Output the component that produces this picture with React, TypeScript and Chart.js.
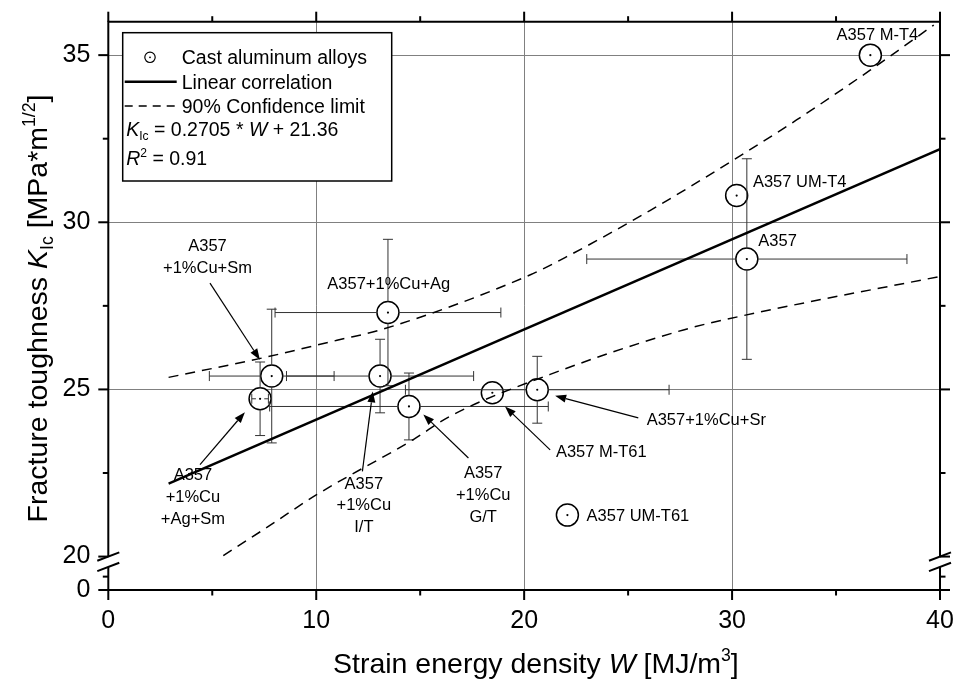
import React, { useEffect, useRef } from 'react';
import { Chart, registerables } from 'chart.js';

Chart.register(...registerables);

const FONT = '"Liberation Sans", Arial, Helvetica, sans-serif';

// ---------------- data ----------------
const alloyNames = ['A357 M-T4', 'A357 UM-T4', 'A357', 'A357+1%Cu+Ag', 'A357+1%Cu+Sm', 'A357+1%Cu I/T', 'A357+1%Cu+Ag+Sm', 'A357+1%Cu G/T', 'A357 M-T61', 'A357+1%Cu+Sr', 'A357 UM-T61'];
const strainEnergy = [36.65, 30.22, 30.71, 13.45, 7.86, 13.07, 7.3, 14.46, 18.47, 20.63, 22.08];
const toughness = [35.0, 30.8, 28.9, 27.3, 25.4, 25.4, 24.72, 24.49, 24.9, 24.99, 21.24];
const strainErr = [0, 0, 7.7, 5.43, 3.0, 4.5, 0.4, 6.7, 0, 6.34, 0];
const toughnessErr = [0, 0, 3.0, 2.19, 2.0, 1.1, 1.1, 1.0, 0, 1.0, 0];

const fitW = [2.9, 40];
const fitK = [22.18, 32.19];

const upperW = [2.9, 7.4, 11.0, 13.2, 20.3, 22.05, 26.05, 30.06, 33.1, 36.64, 39.7];
const upperK = [25.36, 25.94, 26.47, 26.8, 28.43, 28.97, 30.35, 31.86, 33.06, 34.55, 35.9];

const lowerW = [5.53, 7.55, 10.02, 14.67, 16.44, 21.25, 27.66, 30.7, 40];
const lowerK = [20.03, 20.84, 21.85, 23.5, 24.2, 25.45, 26.78, 27.23, 28.38];

const xTickValues = [0, 5, 10, 15, 20, 25, 30, 35, 40];
const xTickLabels = ['0', '', '10', '', '20', '', '30', '', '40'];
const xGridValues = [10, 20, 30];
const yBreakZero = 19.0; // scale position where the lower segment's "0" sits
const yTop = 36.0;
const yTickValues = [19.0, 19.4, 20, 22.5, 25, 27.5, 30, 32.5, 35];
const yTickLabels = ['0', '', '20', '', '25', '', '30', '', '35'];
const yGridValues = [25, 30, 35];
const yBreakMarks = [20.0, 19.69];

// annotation texts (positions in data units)
const labelNotes = [
  { lines: ['A357 M-T4'], w: 36.99, k: 35.6 },
  { lines: ['A357 UM-T4'], w: 33.25, k: 31.2 },
  { lines: ['A357'], w: 32.19, k: 29.44 },
  { lines: ['A357+1%Cu+Ag'], w: 13.49, k: 28.13 },
  { lines: ['A357', '+1%Cu+Sm'], w: 4.77, k: 29.27 },
  { lines: ['A357', '+1%Cu', '+Ag+Sm'], w: 4.07, k: 22.42 },
  { lines: ['A357', '+1%Cu', 'I/T'], w: 12.29, k: 22.17 },
  { lines: ['A357', '+1%Cu', 'G/T'], w: 18.03, k: 22.48 },
  { lines: ['A357 M-T61'], w: 23.71, k: 23.1 },
  { lines: ['A357+1%Cu+Sr'], w: 28.76, k: 24.07 },
  { lines: ['A357 UM-T61'], w: 25.47, k: 21.21 },
];
const arrowNotes = [
  { from: [4.89, 28.18], to: [7.29, 25.89] },
  { from: [4.41, 22.75], to: [6.57, 24.32] },
  { from: [12.22, 22.55], to: [12.72, 24.94] },
  { from: [17.32, 22.95], to: [15.15, 24.25] },
  { from: [21.25, 23.19], to: [19.08, 24.49] },
  { from: [25.49, 24.15], to: [21.49, 24.81] },
];

type Part = { t: string; i?: boolean; sub?: boolean; sup?: boolean };

const legendRows: { kind: string; parts: Part[] }[] = [
  { kind: 'circle', parts: [{ t: 'Cast aluminum alloys' }] },
  { kind: 'solid', parts: [{ t: 'Linear correlation' }] },
  { kind: 'dash', parts: [{ t: '90% Confidence limit' }] },
  { kind: 'text', parts: [{ t: 'K', i: true }, { t: 'Ic', sub: true }, { t: ' = 0.2705 * ' }, { t: 'W', i: true }, { t: ' + 21.36' }] },
  { kind: 'text', parts: [{ t: 'R', i: true }, { t: '2', sup: true }, { t: ' = 0.91' }] },
];
const xTitle: Part[] = [{ t: 'Strain energy density ' }, { t: 'W', i: true }, { t: ' [MJ/m' }, { t: '3', sup: true }, { t: ']' }];
const yTitle: Part[] = [{ t: 'Fracture toughness ' }, { t: 'K', i: true }, { t: 'Ic', sub: true }, { t: ' [MPa*m' }, { t: '1/2', sup: true }, { t: ']' }];

// ---------------- drawing helpers ----------------
function fontFor(p: Part, size: number) {
  const s = p.sub || p.sup ? size * 0.62 : size;
  return `${p.i ? 'italic ' : ''}${s}px ${FONT}`;
}
function richWidth(ctx: CanvasRenderingContext2D, parts: Part[], size: number) {
  let w = 0;
  for (const p of parts) {
    ctx.font = fontFor(p, size);
    w += ctx.measureText(p.t).width;
  }
  return w;
}
function drawRich(ctx: CanvasRenderingContext2D, parts: Part[], x: number, y: number, size: number, align: string) {
  const total = richWidth(ctx, parts, size);
  let cx = align === 'center' ? x - total / 2 : align === 'right' ? x - total : x;
  ctx.textAlign = 'left';
  ctx.textBaseline = 'alphabetic';
  for (const p of parts) {
    ctx.font = fontFor(p, size);
    const dy = p.sub ? size * 0.2 : p.sup ? -size * 0.42 : 0;
    ctx.fillText(p.t, cx, y + dy);
    cx += ctx.measureText(p.t).width;
  }
}
function seg(ctx: CanvasRenderingContext2D, x0: number, y0: number, x1: number, y1: number) {
  ctx.beginPath();
  ctx.moveTo(x0, y0);
  ctx.lineTo(x1, y1);
  ctx.stroke();
}

function drawErrorBars(chart: any) {
  const { ctx } = chart;
  const x = chart.scales.x, y = chart.scales.y;
  const r = 11, cap = 5;
  ctx.save();
  ctx.strokeStyle = '#333';
  ctx.lineWidth = 1;
  strainEnergy.forEach((w, i) => {
    const cx = x.getPixelForValue(w), cy = y.getPixelForValue(toughness[i]);
    if (strainErr[i] > 0) {
      const x0 = x.getPixelForValue(w - strainErr[i]);
      const x1 = x.getPixelForValue(w + strainErr[i]);
      const half = (x1 - x0) / 2;
      const gap = half > r ? r : half * 0.5;
      seg(ctx, x0, cy, cx - gap, cy);
      seg(ctx, cx + gap, cy, x1, cy);
      seg(ctx, x0, cy - cap, x0, cy + cap);
      seg(ctx, x1, cy - cap, x1, cy + cap);
    }
    if (toughnessErr[i] > 0) {
      const y0 = y.getPixelForValue(toughness[i] + toughnessErr[i]);
      const y1 = y.getPixelForValue(toughness[i] - toughnessErr[i]);
      const half = (y1 - y0) / 2;
      const gap = half > r ? r : half * 0.5;
      seg(ctx, cx, y0, cx, cy - gap);
      seg(ctx, cx, cy + gap, cx, y1);
      seg(ctx, cx - cap, y0, cx + cap, y0);
      seg(ctx, cx - cap, y1, cx + cap, y1);
    }
  });
  ctx.restore();
}

function drawFrame(chart: any) {
  const { ctx, chartArea: a } = chart;
  const x = chart.scales.x, y = chart.scales.y;
  ctx.save();
  ctx.strokeStyle = '#000';
  ctx.lineWidth = 2;
  ctx.lineCap = 'butt';
  const bTop = y.getPixelForValue(yBreakMarks[0]);
  const bBot = y.getPixelForValue(yBreakMarks[1]);
  for (const ax of [a.left, a.right]) {
    seg(ctx, ax, a.top - 1, ax, bTop);
    seg(ctx, ax, bBot, ax, a.bottom + 1);
  }
  seg(ctx, a.left, a.top, a.right, a.top);
  seg(ctx, a.left, a.bottom, a.right, a.bottom);
  xTickValues.forEach((v, i) => {
    const px = x.getPixelForValue(v);
    const len = xTickLabels[i] ? 10 : 5.5;
    seg(ctx, px, a.bottom, px, a.bottom + len);
    seg(ctx, px, a.top, px, a.top - len);
  });
  yTickValues.forEach((v, i) => {
    const py = y.getPixelForValue(v);
    const len = yTickLabels[i] ? 10 : 5.5;
    seg(ctx, a.left - len, py, a.left, py);
    seg(ctx, a.right, py, a.right + len, py);
  });
  for (const ax of [a.left, a.right]) {
    for (const v of yBreakMarks) {
      const py = y.getPixelForValue(v);
      seg(ctx, ax - 11, py + 4.2, ax + 11, py - 4.2);
    }
  }
  ctx.restore();
}

function drawNotes(chart: any) {
  const { ctx } = chart;
  const x = chart.scales.x, y = chart.scales.y;
  ctx.save();
  ctx.fillStyle = '#000';
  ctx.font = `16.5px ${FONT}`;
  ctx.textAlign = 'center';
  ctx.textBaseline = 'middle';
  for (const n of labelNotes) {
    const px = x.getPixelForValue(n.w);
    const py = y.getPixelForValue(n.k);
    n.lines.forEach((ln, j) => ctx.fillText(ln, px, py + j * 21.7));
  }
  ctx.strokeStyle = '#000';
  ctx.lineWidth = 1.2;
  for (const a of arrowNotes) {
    const x0 = x.getPixelForValue(a.from[0]), y0 = y.getPixelForValue(a.from[1]);
    const x1 = x.getPixelForValue(a.to[0]), y1 = y.getPixelForValue(a.to[1]);
    const ang = Math.atan2(y1 - y0, x1 - x0);
    const L = 11, W = 4;
    const bx = x1 - L * Math.cos(ang), by = y1 - L * Math.sin(ang);
    seg(ctx, x0, y0, bx, by);
    ctx.beginPath();
    ctx.moveTo(x1, y1);
    ctx.lineTo(bx + W * Math.sin(ang), by - W * Math.cos(ang));
    ctx.lineTo(bx - W * Math.sin(ang), by + W * Math.cos(ang));
    ctx.closePath();
    ctx.fill();
  }
  ctx.restore();
}

function drawLegend(chart: any) {
  const { ctx, chartArea: a } = chart;
  const left = a.left + 14.4, top = a.top + 11, right = a.left + 283.4, bottom = a.top + 159.3;
  ctx.save();
  ctx.fillStyle = '#fff';
  ctx.fillRect(left, top, right - left, bottom - top);
  ctx.strokeStyle = '#000';
  ctx.lineWidth = 1.5;
  ctx.strokeRect(left, top, right - left, bottom - top);
  const rowsY = [57.3, 81.7, 106, 129, 158].map((v) => v - 21.7 + a.top);
  const size = 19.5;
  ctx.fillStyle = '#000';
  legendRows.forEach((row, i) => {
    const cy = rowsY[i];
    const base = cy + size * 0.36;
    if (row.kind === 'circle') {
      ctx.lineWidth = 1.2;
      ctx.beginPath();
      ctx.arc(left + 27.3, cy, 5.2, 0, Math.PI * 2);
      ctx.stroke();
      ctx.beginPath();
      ctx.arc(left + 27.3, cy, 0.9, 0, Math.PI * 2);
      ctx.fill();
    } else if (row.kind === 'solid') {
      ctx.lineWidth = 2.5;
      seg(ctx, left + 2, cy, left + 54, cy);
    } else if (row.kind === 'dash') {
      ctx.lineWidth = 1.5;
      ctx.setLineDash([8, 6]);
      seg(ctx, left + 2, cy, left + 54, cy);
      ctx.setLineDash([]);
    }
    const tx = row.kind === 'text' ? left + 3.5 : left + 59;
    drawRich(ctx, row.parts, tx, base, size, 'left');
  });
  ctx.restore();
}

function drawTitles(chart: any) {
  const { ctx } = chart;
  ctx.save();
  ctx.fillStyle = '#000';
  drawRich(ctx, xTitle, 333, 673, 28.5, 'left');
  ctx.translate(47, 308.5);
  ctx.rotate(-Math.PI / 2);
  drawRich(ctx, yTitle, 0, 0, 28.5, 'center');
  ctx.restore();
}

const zeroPad = (s: any) => {
  s.paddingLeft = 0;
  s.paddingRight = 0;
  s.paddingTop = 0;
  s.paddingBottom = 0;
};

const decorPlugin = {
  id: 'decor',
  afterDatasetDraw(chart: any, args: any) {
    if (args.index === 0) drawErrorBars(chart);
  },
  afterDraw(chart: any) {
    drawFrame(chart);
    drawLegend(chart);
    drawNotes(chart);
    drawTitles(chart);
  },
};

export default function App() {
  const ref = useRef<HTMLCanvasElement>(null);
  useEffect(() => {
    const canvas = ref.current;
    if (!canvas) return;
    const pts = strainEnergy.map((w, i) => ({ x: w, y: toughness[i] }));
    const chart = new Chart(canvas, {
      type: 'scatter',
      data: {
        datasets: [
          { label: 'Cast aluminum alloys', data: pts, pointRadius: 11, pointBorderWidth: 1.5, pointBackgroundColor: '#fff', pointBorderColor: '#000', order: 3 } as any,
          { label: 'centers', data: pts, pointRadius: 1.1, pointBorderWidth: 0, pointBackgroundColor: '#000', order: 2 } as any,
          { label: 'Linear correlation', data: fitW.map((w, i) => ({ x: w, y: fitK[i] })), showLine: true, borderColor: '#000', borderWidth: 2.5, pointRadius: 0, order: 1 } as any,
          { label: '90% Confidence limit', data: upperW.map((w, i) => ({ x: w, y: upperK[i] })), showLine: true, borderColor: '#000', borderWidth: 1.5, borderDash: [10, 7], pointRadius: 0, cubicInterpolationMode: 'monotone', order: 1 } as any,
          { label: '90% Confidence limit (lower)', data: lowerW.map((w, i) => ({ x: w, y: lowerK[i] })), showLine: true, borderColor: '#000', borderWidth: 1.5, borderDash: [10, 7], pointRadius: 0, cubicInterpolationMode: 'monotone', order: 1 } as any,
        ],
      },
      options: {
        responsive: false,
        animation: false,
        events: [],
        layout: { padding: { top: 21.7, right: 18, left: 0, bottom: 0 } },
        plugins: { legend: { display: false }, tooltip: { enabled: false } },
        scales: {
          x: {
            type: 'linear',
            position: 'bottom',
            min: 0,
            max: 40,
            afterBuildTicks: (s: any) => { s.ticks = xTickValues.map((v) => ({ value: v })); },
            afterFit: (s: any) => { s.height = 99; zeroPad(s); },
            ticks: { autoSkip: false, maxRotation: 0, padding: 16, color: '#000', font: { family: FONT, size: 25 }, callback: (_v: any, i: number) => xTickLabels[i] ?? '' },
            grid: { drawTicks: false, lineWidth: 1, color: (c: any) => (c.tick && xGridValues.includes(c.tick.value) ? '#808080' : 'rgba(0,0,0,0)') },
            border: { display: false },
          },
          y: {
            type: 'linear',
            position: 'left',
            min: yBreakZero,
            max: yTop,
            afterBuildTicks: (s: any) => { s.ticks = yTickValues.map((v) => ({ value: v })); },
            afterFit: (s: any) => { s.width = 108.3; zeroPad(s); },
            ticks: { autoSkip: false, padding: 18, color: '#000', font: { family: FONT, size: 25 }, callback: (_v: any, i: number) => yTickLabels[i] ?? '' },
            grid: { drawTicks: false, lineWidth: 1, color: (c: any) => (c.tick && yGridValues.includes(c.tick.value) ? '#808080' : 'rgba(0,0,0,0)') },
            border: { display: false },
          },
        },
      } as any,
      plugins: [decorPlugin],
    });
    return () => chart.destroy();
  }, []);
  return (
    <div style={{ position: 'absolute', left: 0, top: 0, width: 958, height: 689, background: '#fff' }}>
      <canvas ref={ref} width={958} height={689} style={{ display: 'block' }} aria-label={alloyNames.join(', ')} />
    </div>
  );
}
